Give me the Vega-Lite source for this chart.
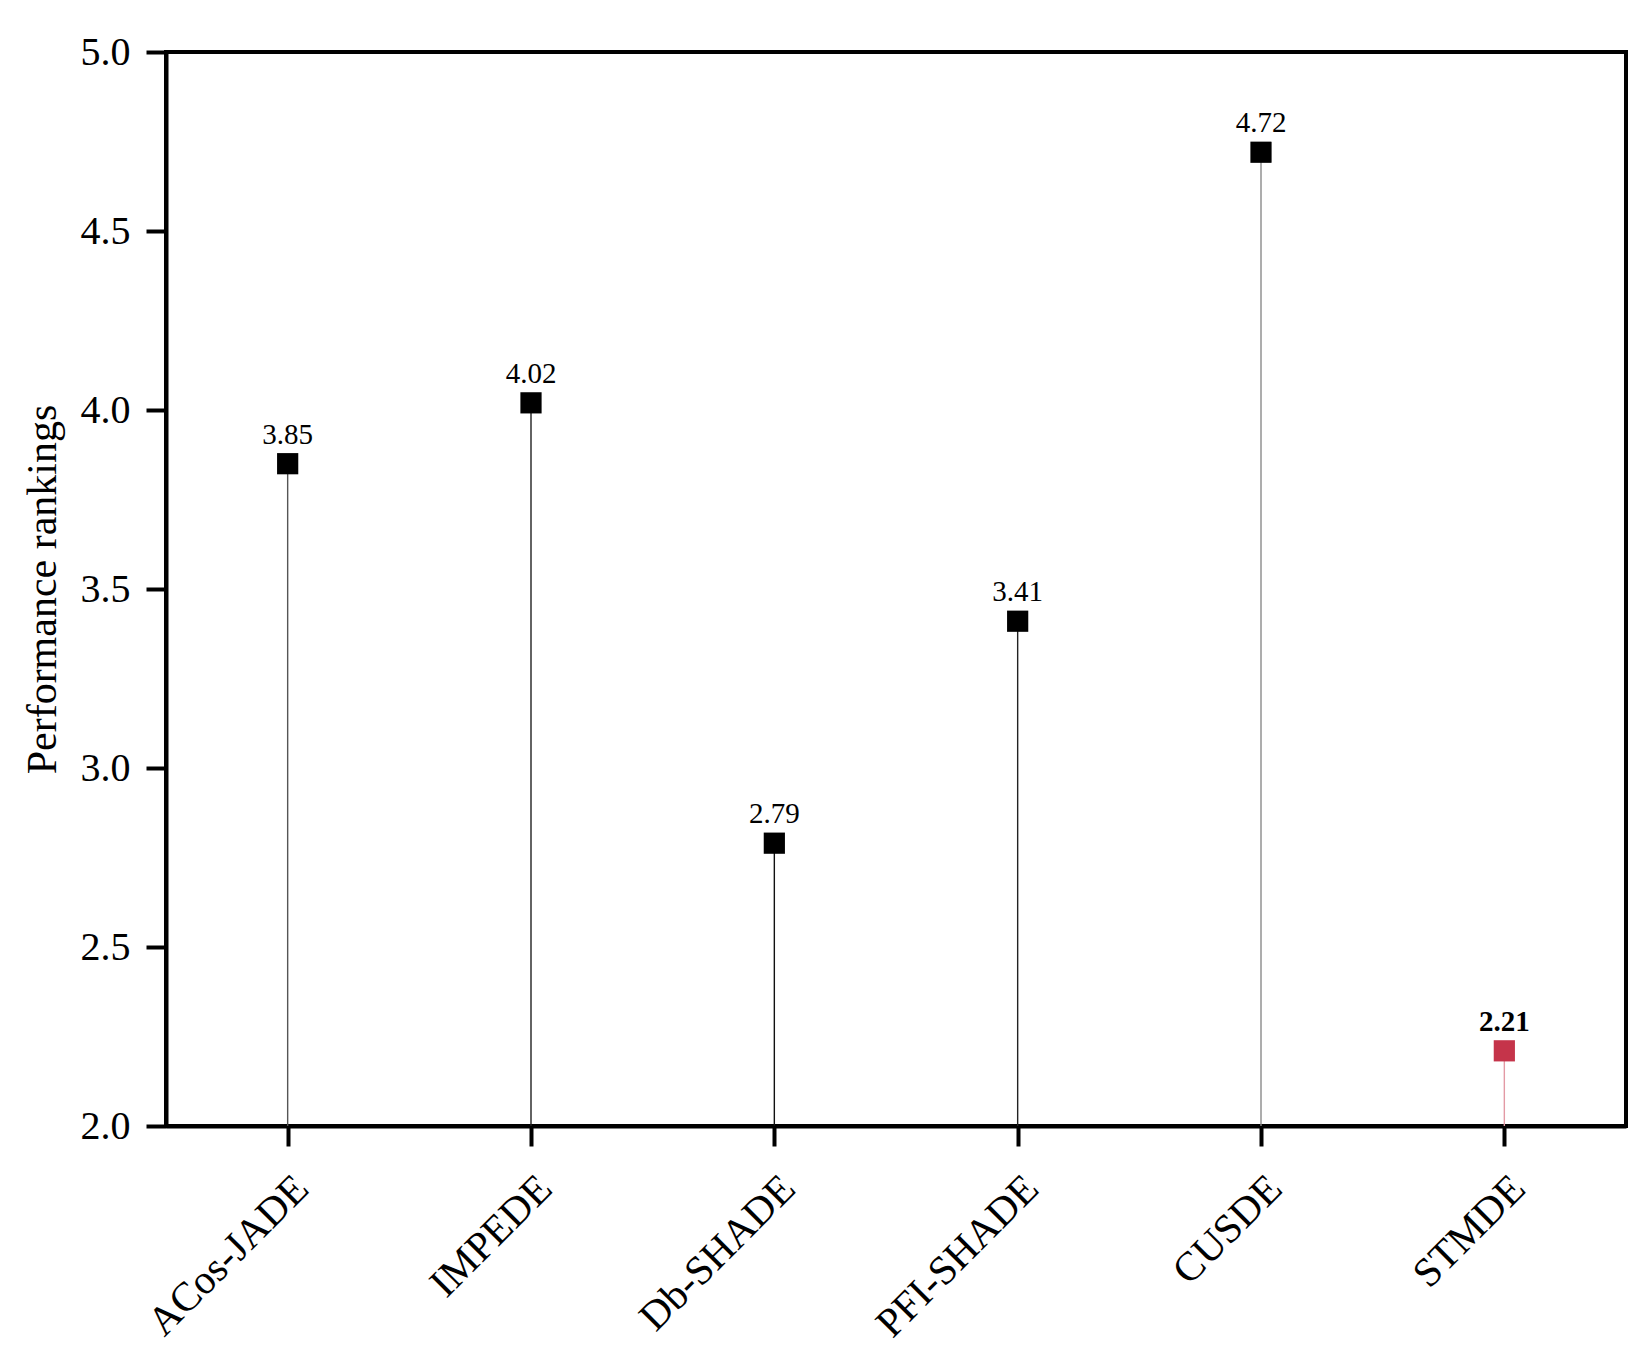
{
  "$schema": "https://vega.github.io/schema/vega-lite/v6.json",
  "width": 1460,
  "height": 1074,
  "autosize": "none",
  "padding": {"left": 166, "top": 52, "right": 26, "bottom": 233},
  "background": "white",
  "config": {
    "view": {"stroke": "black", "strokeWidth": 4},
    "font": "Liberation Serif"
  },
  "data": {
    "values": [
      {"method": "ACos-JADE", "rank": 3.85, "label": "3.85", "best": "no"},
      {"method": "IMPEDE", "rank": 4.02, "label": "4.02", "best": "no"},
      {"method": "Db-SHADE", "rank": 2.79, "label": "2.79", "best": "no"},
      {"method": "PFI-SHADE", "rank": 3.41, "label": "3.41", "best": "no"},
      {"method": "CUSDE", "rank": 4.72, "label": "4.72", "best": "no"},
      {"method": "STMDE", "rank": 2.21, "label": "2.21", "best": "yes"}
    ]
  },
  "encoding": {
    "x": {
      "field": "method",
      "type": "nominal",
      "sort": null,
      "scale": {"type": "point", "padding": 0.5},
      "axis": {
        "title": null,
        "labelAngle": -45,
        "labelLimit": 0,
        "labelFont": "Liberation Serif",
        "labelFontSize": 41,
        "labelColor": "black",
        "labelPadding": 22,
        "tickColor": "black",
        "tickWidth": 4,
        "tickSize": 20,
        "domainColor": "black",
        "domainWidth": 4,
        "grid": false
      }
    },
    "y": {
      "field": "rank",
      "type": "quantitative",
      "scale": {"domain": [2, 5], "nice": false, "zero": false},
      "axis": {
        "title": "Performance rankings",
        "titleFont": "Liberation Serif",
        "titleFontSize": 42,
        "titleFontWeight": "normal",
        "titleColor": "black",
        "titlePadding": 16,
        "values": [2, 2.5, 3, 3.5, 4, 4.5, 5],
        "format": ".1f",
        "labelFont": "Liberation Serif",
        "labelFontSize": 40,
        "labelColor": "black",
        "labelPadding": 16,
        "tickColor": "black",
        "tickWidth": 4,
        "tickSize": 20,
        "domainColor": "black",
        "domainWidth": 4,
        "grid": false
      }
    }
  },
  "layer": [
    {
      "mark": {"type": "rule", "strokeWidth": 1.4},
      "encoding": {
        "y2": {"datum": 2},
        "color": {
          "field": "method",
          "type": "nominal",
          "scale": {
            "domain": ["ACos-JADE", "IMPEDE", "Db-SHADE", "PFI-SHADE", "CUSDE", "STMDE"],
            "range": ["#555555", "#222222", "#111111", "#222222", "#8a8a8a", "#e39aa5"]
          },
          "legend": null
        }
      }
    },
    {
      "mark": {"type": "point", "shape": "square", "filled": true, "size": 450, "opacity": 1},
      "encoding": {
        "fill": {
          "field": "best",
          "type": "nominal",
          "scale": {"domain": ["no", "yes"], "range": ["#000000", "#c5344a"]},
          "legend": null
        }
      }
    },
    {
      "transform": [{"filter": "datum.best == 'no'"}],
      "mark": {"type": "text", "baseline": "alphabetic", "dy": -20, "font": "Liberation Serif", "fontSize": 29, "fontWeight": "normal", "color": "black"},
      "encoding": {
        "text": {"field": "label"}
      }
    },
    {
      "transform": [{"filter": "datum.best == 'yes'"}],
      "mark": {"type": "text", "baseline": "alphabetic", "dy": -20, "font": "Liberation Serif", "fontSize": 29, "fontWeight": "bold", "color": "black"},
      "encoding": {
        "text": {"field": "label"}
      }
    }
  ],
  "resolve": {"scale": {"color": "independent"}}
}
